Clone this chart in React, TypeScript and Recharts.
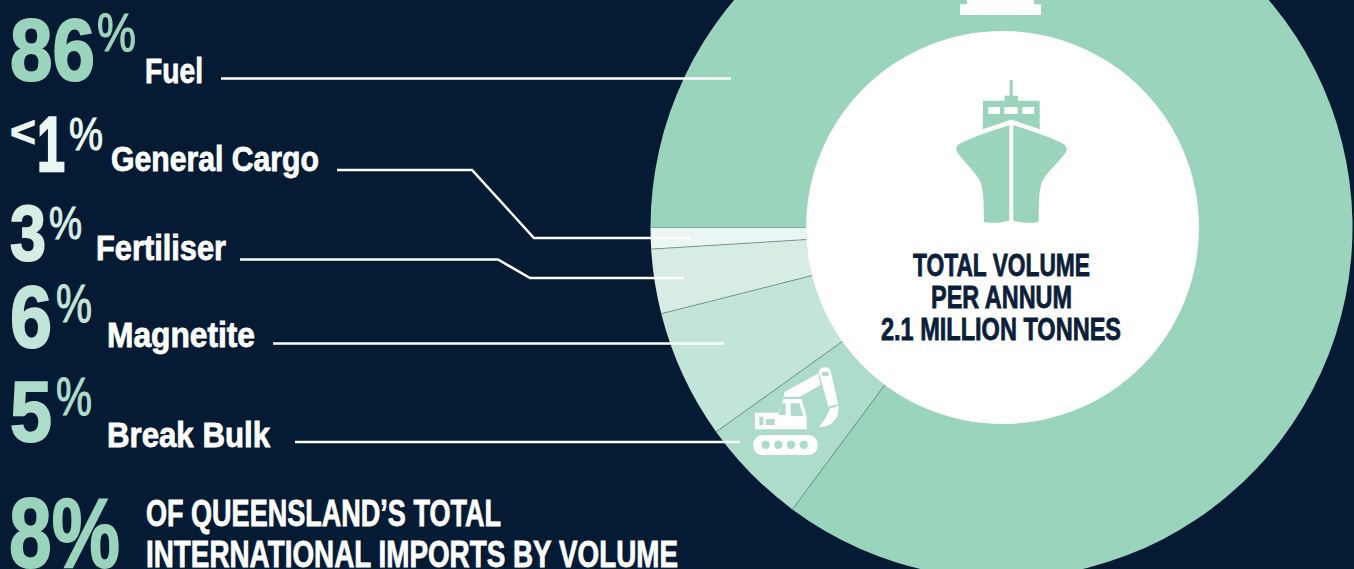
import React from 'react';
import { PieChart, Pie, Cell, Sector } from 'recharts';

// Import mix, worked anticlockwise from the left-hand edge of the ring
const categories = ['General Cargo', 'Fertiliser', 'Magnetite', 'Break Bulk', 'Fuel'];
const shares = [0.99, 3, 6, 5, 86];
const sliceColors = ['#EAF6F3', '#D7EDE4', '#C3E4D9', '#ADDCCB', '#9AD4BD'];

const NAVY = '#051B34';
const MINT = '#9AD4BD';
const FONT = '"Liberation Sans", Arial, sans-serif';

const data = categories.map((name, i) => ({ name, value: shares[i] }));

// Flat sector plus a hairline along its leading edge, so the arcs stay unoutlined
const SliceWithEdge = (props: any) => {
  const { cx, cy, innerRadius, outerRadius, startAngle, fill } = props;
  const rad = (-startAngle * Math.PI) / 180;
  return (
    <g>
      <Sector {...props} stroke="none" fill={fill} />
      <line
        x1={cx + innerRadius * Math.cos(rad)}
        y1={cy + innerRadius * Math.sin(rad)}
        x2={cx + outerRadius * Math.cos(rad)}
        y2={cy + outerRadius * Math.sin(rad)}
        stroke="#6C8C8C"
        strokeWidth={0.8}
      />
    </g>
  );
};

// Squeezed text: Liberation has no condensed cut, so widths are forced and
// a thin outline of the same colour makes up for the lost stem weight
const T = ({ x, y, w, size, fill = '#fff', weight = 700, heavy = 0.8, children }: any) => (
  <text
    x={x}
    y={y}
    fontSize={size}
    fontWeight={weight}
    fontFamily={FONT}
    fill={fill}
    stroke={fill}
    strokeWidth={heavy}
    textLength={w}
    lengthAdjust="spacingAndGlyphs"
  >
    {children}
  </text>
);

const Leader = ({ points }: { points: string }) => (
  <polyline points={points} fill="none" stroke="#fff" strokeWidth={2.5} />
);

const ShipIcon = () => (
  <g fill={MINT}>
    <rect x={1009.7} y={80} width={3} height={17} />
    <rect x={1004.7} y={95.7} width={13.3} height={6} />
    <path
      fillRule="evenodd"
      d="M983 100.7H1039.7V129.3L1011.3 119.4L983 129.3Z
         M988.3 107V114H1000V107Z M1004.3 107V114H1017.7V107Z M1022.3 107V114H1034.3V107Z"
    />
    <path d="M1009.3 125L1009.3 220.5C1002 223 991 223.5 984 222C983.5 212 984.5 196 981 183C977 173 963 161 957 152C955 148 957 145 961 143C975 136 995 130 1009.3 125Z" />
    <path d="M1013.3 125L1013.3 220.5C1021 223 1032 223.5 1038.5 222C1039 212 1038 196 1041.5 183C1045.5 173 1060 161 1066 152C1068 148 1066 145 1062 143C1048 136 1028 130 1013.3 125Z" />
  </g>
);

const ExcavatorIcon = () => (
  <g fill="#fff">
    <path
      fillRule="evenodd"
      d="M755 412.7H778.3L783.3 399H801.7L806.7 416.7V429.3H755Z
         M759.3 416.7V425H763.3V416.7Z M766 419V425H774.7V419Z
         M781.7 403.3L785.7 403.3V415H778.3Z M790.7 403.3H799.3L803.3 416H790.7Z"
    />
    <path d="M783.3 396.7L785 391.7L818.5 373.3L820.5 385L800 396.7Z" />
    <path
      fillRule="evenodd"
      d="M819 373C818 367 828 365 830.5 370.5L838.3 404L828.3 406.7Z
         M825.3 372A2.3 2.3 0 1 0 825.3 376A2.3 2.3 0 1 0 825.3 372Z"
    />
    <path d="M830 408.5L838.5 405.7C839.5 418 832 427.5 819 426.7C825 420 828 414 830 408.5Z" />
    <path
      fillRule="evenodd"
      d="M763 435H808C821 435 821 455 808 455H763C750 455 750 435 763 435Z
         M765.7 440.5A4.2 4.2 0 1 0 765.7 448.9A4.2 4.2 0 1 0 765.7 440.5Z
         M778.3 440.5A4.2 4.2 0 1 0 778.3 448.9A4.2 4.2 0 1 0 778.3 440.5Z
         M791 440.5A4.2 4.2 0 1 0 791 448.9A4.2 4.2 0 1 0 791 440.5Z
         M803.7 440.5A4.2 4.2 0 1 0 803.7 448.9A4.2 4.2 0 1 0 803.7 440.5Z"
    />
  </g>
);

const App = () => (
  <div style={{ position: 'absolute', left: 0, top: 0, width: 1354, height: 569, background: NAVY, overflow: 'hidden' }}>
    <PieChart width={1354} height={569} margin={{ top: 0, right: 0, bottom: 0, left: 0 }}>
      <Pie
        data={data}
        dataKey="value"
        cx={1001.5}
        cy={227.5}
        innerRadius={195}
        outerRadius={351}
        startAngle={180}
        endAngle={540}
        stroke="none"
        shape={SliceWithEdge}
        isAnimationActive={false}
      >
        {data.map((d, i) => (
          <Cell key={d.name} fill={sliceColors[i]} />
        ))}
      </Pie>
    </PieChart>

    {/* annotations sit in their own layer so they paint above the ring */}
    <svg width={1354} height={569} style={{ position: 'absolute', left: 0, top: 0 }}>
      <circle cx={1002.5} cy={227.5} r={196.5} fill="#fff" />

      {/* plinth of the truncated icon at the ring's top */}
      <rect x={960} y={4.3} width={81} height={10.7} fill="#fff" />
      <rect x={967} y={0} width={67} height={5} fill="#fff" />

      <ShipIcon />
      <ExcavatorIcon />

      <T x={913} y={276} w={177} size={31} fill="#0B1E3A">TOTAL VOLUME</T>
      <T x={931} y={308} w={141} size={31} fill="#0B1E3A">PER ANNUM</T>
      <T x={881} y={340} w={240} size={31} fill="#0B1E3A">2.1 MILLION TONNES</T>

      <Leader points="221,78.5 731,78.5" />
      <Leader points="337,170 472,170 534,238 690,238" />
      <Leader points="240,259.5 498,259.5 530,278 684,278" />
      <Leader points="273,343.5 724,343.5" />
      <Leader points="295,442 740,442" />

      <T x={10} y={80} w={85} size={87} fill={MINT} heavy={2}>86</T>
      <T x={97} y={51} w={39} size={53} fill={MINT} weight={400} heavy={1.1}>%</T>
      <T x={145} y={82.5} w={58} size={35}>Fuel</T>

      <T x={10} y={147} w={26} size={44} fill="#EAF6F3">&lt;</T>
      <T x={37} y={171} w={28} size={77} fill="#EAF6F3" heavy={2.4}>1</T>
      <T x={69} y={150} w={34} size={46} fill="#EAF6F3" weight={400} heavy={1.1}>%</T>
      <T x={111} y={170.5} w={208} size={35}>General Cargo</T>

      <T x={10} y={260} w={36} size={78} fill="#D7EDE4" heavy={2}>3</T>
      <T x={49} y={238.5} w={33} size={46} fill="#D7EDE4" weight={400} heavy={1.1}>%</T>
      <T x={96} y={259.5} w={130} size={35}>Fertiliser</T>

      <T x={10} y={347} w={42} size={88} fill="#C3E4D9" heavy={2}>6</T>
      <T x={56} y={321.5} w={36} size={53} fill="#C3E4D9" weight={400} heavy={1.1}>%</T>
      <T x={107} y={346.5} w={148} size={35}>Magnetite</T>

      <T x={10} y={441} w={42} size={86} fill="#ADDCCB" heavy={2}>5</T>
      <T x={56} y={415} w={36} size={53} fill="#ADDCCB" weight={400} heavy={1.1}>%</T>
      <T x={107} y={446.5} w={163} size={35}>Break Bulk</T>

      <T x={9} y={567} w={111} size={98} fill={MINT} heavy={1.8}>8%</T>
      <T x={146} y={526} w={355} size={37}>OF QUEENSLAND’S TOTAL</T>
      <T x={146} y={567} w={532} size={37}>INTERNATIONAL IMPORTS BY VOLUME</T>
    </svg>
  </div>
);

export default App;
